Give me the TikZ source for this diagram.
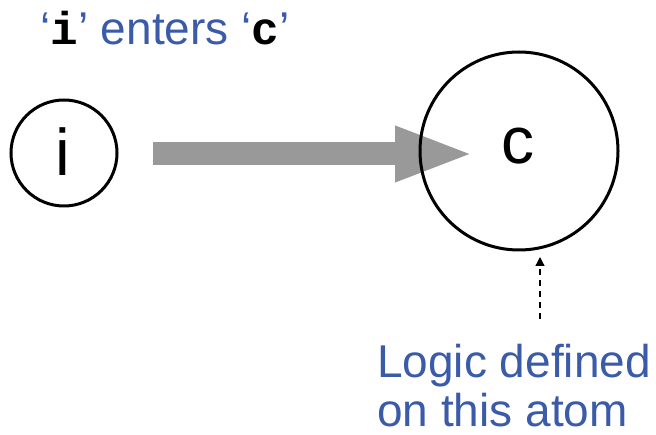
\documentclass[tikz,border=0pt]{standalone}
\usepackage{fontspec}
\setmainfont{Liberation Sans}
\newfontfamily\monofont{Liberation Mono}
\usetikzlibrary{arrows.meta}
\definecolor{txtblue}{HTML}{3A5BA8}
\definecolor{arrowgray}{HTML}{999999}
\tikzset{
  atom/.style={circle, draw=black, line width=3pt, inner sep=0pt},
  letter/.style={font=\fontsize{66}{66}\selectfont, inner sep=0pt, anchor=base},
  bluetext/.style={text=txtblue, inner sep=0pt, font=\fontsize{46}{48}\selectfont},
  bigarrow/.style={draw=arrowgray, line width=23pt, -{Triangle[length=80pt,width=50pt]}},
  dasharrow/.style={draw=black, line width=1.3pt, dash pattern=on 6pt off 5pt, -{Triangle[length=9pt,width=9pt]}}
}
\begin{document}
\begin{tikzpicture}[x=1pt,y=-1pt]
\useasboundingbox (0,0) rectangle (656,435);
\coordinate (astart) at (153,154);
\coordinate (aend) at (475,154);
\draw[bigarrow] (astart) -- (aend);
\node[atom, minimum size=106pt] (i) at (64,153) {};
\node[letter] (itxt) at (63,176) {i};
\node[atom, minimum size=198pt] (c) at (519,151) {};
\node[letter] (ctxt) at (518,164) {c};
\node[bluetext, anchor=base west] (title) at (40,45) {‘{\monofont\bfseries\color{black}i}’ enters ‘{\monofont\bfseries\color{black}c}’};
\node[bluetext, anchor=base west] (lbl1) at (377,378) {Logic defined};
\node[bluetext, anchor=base west] (lbl2) at (377,426) {on this atom};
\coordinate (dstart) at (540,319);
\coordinate (dend) at (540,257);
\draw[dasharrow] (dstart) -- (dend);
\end{tikzpicture}
\end{document}
